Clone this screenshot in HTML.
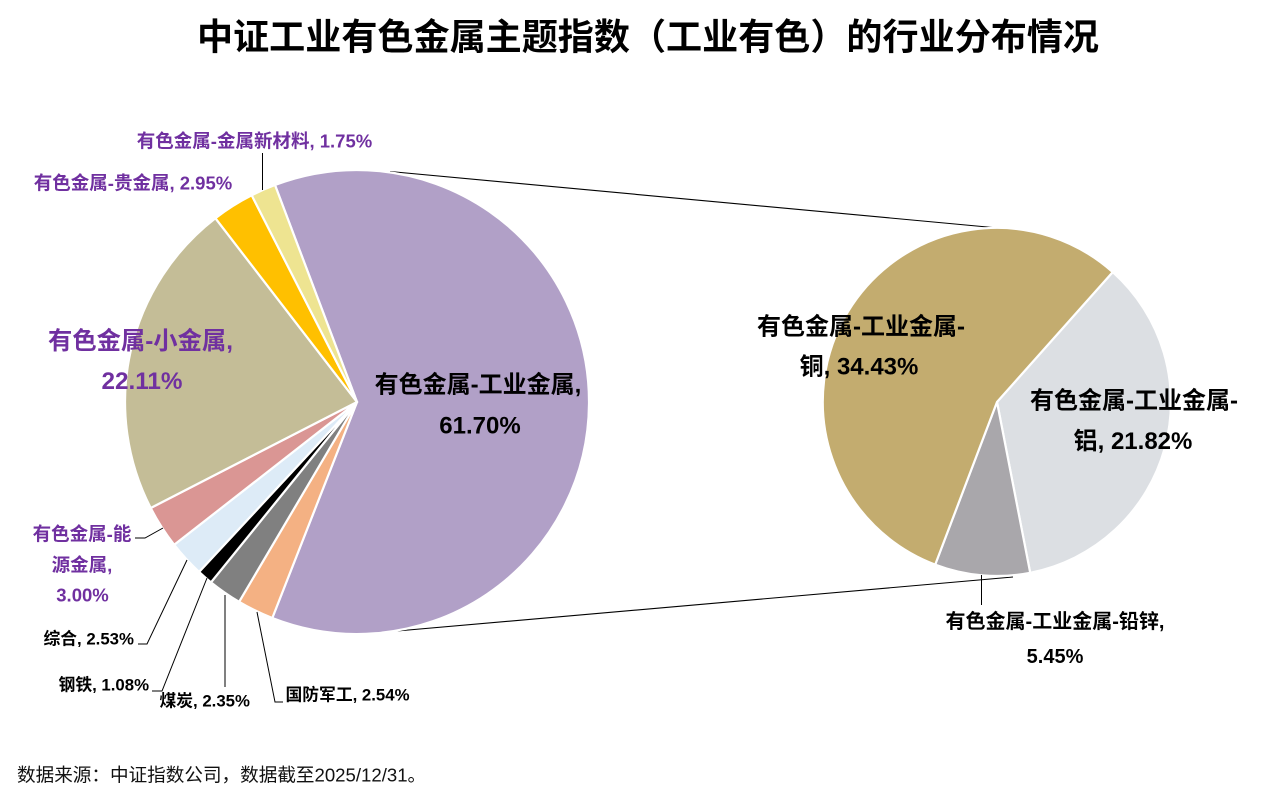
<!DOCTYPE html>
<html>
<head>
<meta charset="utf-8">
<style>
html,body{margin:0;padding:0;background:#fff;}
svg{display:block;}
text{font-family:"Liberation Sans","Noto Sans CJK SC","WenQuanYi Zen Hei",sans-serif;}
.b{font-weight:bold;}
.p{fill:#7030A0;}
.k{fill:#000;}
</style>
</head>
<body>
<svg width="1278" height="803" viewBox="0 0 1278 803" xmlns="http://www.w3.org/2000/svg">
<rect width="1278" height="803" fill="#fff"/>

<!-- Title -->
<text x="648" y="37" text-anchor="middle" dominant-baseline="central" class="b k" font-size="36.1">中证工业有色金属主题指数（工业有色）的行业分布情况</text>

<!-- Connector lines -->
<line x1="390" y1="171.5" x2="998" y2="228" stroke="#000" stroke-width="1.1"/>
<line x1="397" y1="631" x2="1013" y2="577" stroke="#000" stroke-width="1.1"/>

<!-- Main pie -->
<g stroke="#fff" stroke-width="2.2" stroke-linejoin="round">
<path d="M357,402 L275.0,185.0 A232,232 0 1 1 272.3,618.0 Z" fill="#B1A0C7"/>
<path d="M357,402 L272.3,618.0 A232,232 0 0 1 239.1,601.8 Z" fill="#F4B183"/>
<path d="M357,402 L239.1,601.8 A232,232 0 0 1 211.0,582.3 Z" fill="#808080"/>
<path d="M357,402 L211.0,582.3 A232,232 0 0 1 199.1,571.9 Z" fill="#000000"/>
<path d="M357,402 L199.1,571.9 A232,232 0 0 1 174.2,544.8 Z" fill="#DDEBF7"/>
<path d="M357,402 L174.2,544.8 A232,232 0 0 1 150.7,508.0 Z" fill="#DA9694"/>
<path d="M357,402 L150.7,508.0 A232,232 0 0 1 215.4,218.2 Z" fill="#C4BD97"/>
<path d="M357,402 L215.4,218.2 A232,232 0 0 1 251.7,195.3 Z" fill="#FFC000"/>
<path d="M357,402 L251.7,195.3 A232,232 0 0 1 275.0,185.0 Z" fill="#EEE491"/>
</g>

<!-- Secondary pie -->
<g stroke="#fff" stroke-width="2.2" stroke-linejoin="round">
<path d="M997,402 L1112.7,272.1 A174,174 0 0 1 1030.2,572.8 Z" fill="#DCDFE3"/>
<path d="M997,402 L1030.2,572.8 A174,174 0 0 1 935.2,564.6 Z" fill="#A9A7AB"/>
<path d="M997,402 L935.2,564.6 A174,174 0 1 1 1112.7,272.1 Z" fill="#C3AC6F"/>
</g>

<!-- Leader lines -->
<g stroke="#000" stroke-width="1" fill="none">
<path d="M262.5,153 L262.5,190"/>
<path d="M135,538 L145,538 L163,528"/>
<path d="M138,644 L147,644 L187,560"/>
<path d="M152,691 L162,691 L207,578"/>
<path d="M225,595 L225,687"/>
<path d="M257,612 L275,702 L283,702"/>
<path d="M981.5,575 L981.5,605"/>
</g>

<!-- Main pie labels -->
<text x="254.5" y="141" text-anchor="middle" dominant-baseline="central" class="b p" font-size="18.5">有色金属-金属新材料, 1.75%</text>
<text x="133" y="183" text-anchor="middle" dominant-baseline="central" class="b p" font-size="18.5">有色金属-贵金属, 2.95%</text>

<text x="140.5" y="341.5" text-anchor="middle" dominant-baseline="central" class="b p" font-size="24.3">有色金属-小金属,</text>
<text x="142" y="381.5" text-anchor="middle" dominant-baseline="central" class="b p" font-size="24.3">22.11%</text>

<text x="478" y="385" text-anchor="middle" dominant-baseline="central" class="b k" font-size="24">有色金属-工业金属,</text>
<text x="480" y="426" text-anchor="middle" dominant-baseline="central" class="b k" font-size="24">61.70%</text>

<text x="82" y="534" text-anchor="middle" dominant-baseline="central" class="b p" font-size="18.5">有色金属-能</text>
<text x="82" y="565" text-anchor="middle" dominant-baseline="central" class="b p" font-size="18.5">源金属,</text>
<text x="82.5" y="595" text-anchor="middle" dominant-baseline="central" class="b p" font-size="18.5">3.00%</text>

<text x="88.7" y="639" text-anchor="middle" dominant-baseline="central" class="b k" font-size="16.8">综合, 2.53%</text>
<text x="103.8" y="685" text-anchor="middle" dominant-baseline="central" class="b k" font-size="16.8">钢铁, 1.08%</text>
<text x="204.7" y="701" text-anchor="middle" dominant-baseline="central" class="b k" font-size="16.8">煤炭, 2.35%</text>
<text x="347.5" y="695" text-anchor="middle" dominant-baseline="central" class="b k" font-size="16.8">国防军工, 2.54%</text>

<!-- Secondary pie labels -->
<text x="861" y="327" text-anchor="middle" dominant-baseline="central" class="b k" font-size="24">有色金属-工业金属-</text>
<text x="859" y="367" text-anchor="middle" dominant-baseline="central" class="b k" font-size="24">铜, 34.43%</text>

<text x="1134" y="401" text-anchor="middle" dominant-baseline="central" class="b k" font-size="24">有色金属-工业金属-</text>
<text x="1133" y="441.5" text-anchor="middle" dominant-baseline="central" class="b k" font-size="24">铝, 21.82%</text>

<text x="1055" y="622" text-anchor="middle" dominant-baseline="central" class="b k" font-size="20">有色金属-工业金属-铅锌,</text>
<text x="1055" y="657" text-anchor="middle" dominant-baseline="central" class="b k" font-size="20">5.45%</text>

<!-- Footer -->
<text x="17" y="775" dominant-baseline="central" fill="#111" font-size="18.6">数据来源：中证指数公司，数据截至2025/12/31。</text>
</svg>
</body>
</html>
